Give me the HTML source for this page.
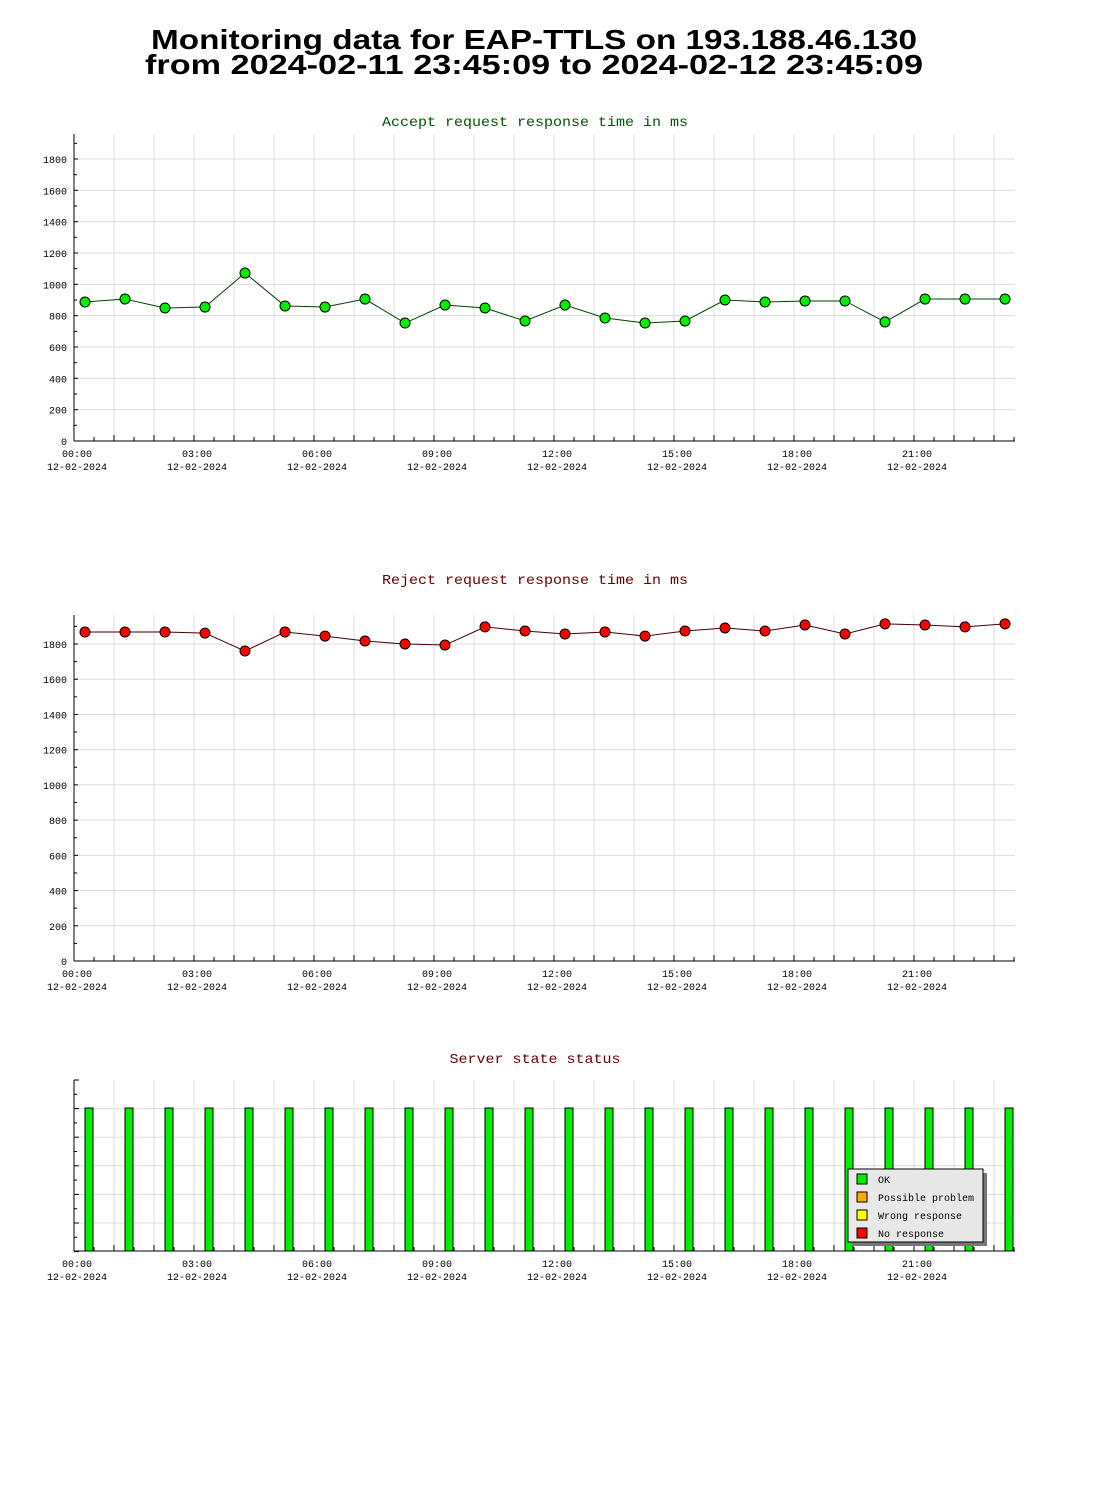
<!DOCTYPE html>
<html><head><meta charset="utf-8"><style>
body{margin:0;background:#fff;width:1100px;height:1500px;overflow:hidden}
svg{display:block}
</style></head><body>
<svg id="s" width="1100" height="1500" xmlns="http://www.w3.org/2000/svg">
<text x="534" y="49" text-anchor="middle" font-family="Liberation Sans, sans-serif" font-weight="bold" font-size="28" textLength="766" lengthAdjust="spacingAndGlyphs">Monitoring data for EAP-TTLS on 193.188.46.130</text>
<text x="534" y="74" text-anchor="middle" font-family="Liberation Sans, sans-serif" font-weight="bold" font-size="28" textLength="778" lengthAdjust="spacingAndGlyphs">from 2024-02-11 23:45:09 to 2024-02-12 23:45:09</text>
<g id="c1"></g>
<g id="c2"></g>
<g id="c3"></g>
</svg>
<script>
const acceptValues=[887,906,849,855,1072,862,855,906,753,868,849,766,868,785,753,766,900,887,894,894,760,906,906,906];
const rejectValues=[1868,1868,1868,1862,1760,1868,1845,1817,1800,1794,1897,1874,1857,1868,1845,1874,1891,1874,1908,1857,1914,1908,1897,1914];
const statusValues=[1,1,1,1,1,1,1,1,1,1,1,1,1,1,1,1,1,1,1,1,1,1,1,1];
const timeLabels=["00:00","03:00","06:00","09:00","12:00","15:00","18:00","21:00"];
const dateLabel="12-02-2024";
const yTicks=[0,200,400,600,800,1000,1200,1400,1600,1800];
const NS="http://www.w3.org/2000/svg";
function el(p,t,a){const e=document.createElementNS(NS,t);for(const k in a)e.setAttribute(k,a[k]);p.appendChild(e);return e;}
const X0=74,X1=1015;
const xPos=i=>85+40*i;
function frame(g,top,bot,title,color,titleY,titleLen,ticks,ys){
  const t=el(g,'text',{x:535,y:titleY,'text-anchor':'middle','font-family':'Liberation Mono, monospace','font-size':14,fill:color,textLength:titleLen,lengthAdjust:'spacingAndGlyphs'});
  t.textContent=title;
  
  
  for(let k=1;k<24;k++){el(g,'line',{x1:X0+40*k,x2:X0+40*k,y1:top,y2:bot,stroke:'#ddd'});}
  ticks.forEach(v=>{const y=ys(v);
    if(v>0)el(g,'line',{x1:X0,x2:X1,y1:y,y2:y,stroke:'#ddd'});
  });
  el(g,'line',{x1:X0,x2:X0,y1:top,y2:bot,stroke:'#000'});
  el(g,'line',{x1:X0,x2:X1,y1:bot,y2:bot,stroke:'#000'});
  for(let k=0;k<=47;k++){const x=X0+20*k;el(g,'line',{x1:x,x2:x,y1:bot,y2:bot+(k%2?-4:-6),stroke:'#000'});}
  timeLabels.forEach((l,i)=>{const x=X0+3+120*i;
    const a=el(g,'text',{x:x,y:bot+16,'text-anchor':'middle','font-family':'Liberation Mono, monospace','font-size':10});a.textContent=l;
    
    
    const b=el(g,'text',{x:x,y:bot+29,'text-anchor':'middle','font-family':'Liberation Mono, monospace','font-size':10});b.textContent=dateLabel;
    
    
  });
}
function lineChart(g,vals,top,bot,y0,pxPer,title,color,titleY,lineColor,fill){
  const ys=v=>y0-v*pxPer;
  frame(g,top,bot,title,color,titleY,306,yTicks,ys);
  yTicks.forEach(v=>{const y=ys(v);
    el(g,'line',{x1:X0,x2:X0+4,y1:y,y2:y,stroke:'#000'});
    el(g,'line',{x1:X0,x2:X0+3,y1:ys(v+100),y2:ys(v+100),stroke:'#000'});
    const t=el(g,'text',{x:X0-7,y:y+4,'text-anchor':'end','font-family':'Liberation Mono, monospace','font-size':10});t.textContent=v;
    
    
  });
  const pts=vals.map((v,i)=>xPos(i)+','+ys(v)).join(' ');
  const pl=el(g,'polyline',{points:pts,fill:'none',stroke:lineColor,'stroke-width':1});
  
  
  vals.forEach((v,i)=>{const x=xPos(i),y=ys(v);
    const p=el(g,'circle',{cx:x,cy:y,r:5,fill:fill,stroke:'#000','stroke-width':1});
    
    
  });
}
lineChart(document.getElementById('c1'),acceptValues,134,441,441,282/1800,'Accept request response time in ms','#005500',126,'#004400','#00ee00');
lineChart(document.getElementById('c2'),rejectValues,615,961,961,317/1800,'Reject request response time in ms','#660000',584,'#440000','#ff0000');
(function(){
  const g=document.getElementById('c3');const top=1080,bot=1251;
  const ys=v=>bot-v*143;
  frame(g,top,bot,'Server state status','#660000',1063,171,[0],ys);
  for(let k=1;k<6;k++){const y=top+28.6*k;el(g,'line',{x1:X0,x2:X1,y1:y,y2:y,stroke:'#ddd'});}
  for(let k=0;k<=12;k++){const y=top+14.3*k;el(g,'line',{x1:X0,x2:X0+(k%2?3:5),y1:y,y2:y,stroke:'#000'});}
  statusValues.forEach((v,i)=>{
    const r=el(g,'rect',{x:xPos(i),y:ys(v),width:8,height:bot-ys(v),fill:'#00ee00',stroke:'#000'});
    
    
  });
  const lg=el(g,'g',{});
  
  
  el(lg,'rect',{x:852,y:1173,width:135,height:73,fill:'#777'});
  el(lg,'rect',{x:848,y:1169,width:135,height:73,fill:'#e8e8e8',stroke:'#000'});
  [['OK','#00ee00'],['Possible problem','#ffaa00'],['Wrong response','#ffff00'],['No response','#ff0000']].forEach((e,i)=>{
    const y=1179+18*i;
    const s=el(lg,'rect',{x:857,y:y-5,width:10,height:10,fill:e[1],stroke:'#000'});
    
    
    const t=el(lg,'text',{x:878,y:y+4,'font-family':'Liberation Mono, monospace','font-size':10});t.textContent=e[0];
    
    
  });
})();
</script>
</body></html>
